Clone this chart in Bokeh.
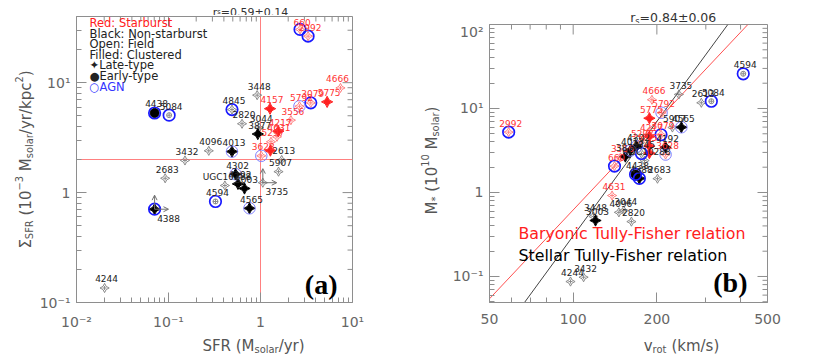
import math
from bokeh.plotting import figure
from bokeh.models import (Range1d, FixedTicker, CustomJSTickFormatter,
                          Label, Arrow, OpenHead, ColumnDataSource)
from bokeh.layouts import row, column
from bokeh.embed import file_html
from bokeh.resources import INLINE
from bokeh.core.properties import value

# ---------------- data ----------------
galaxy = ["660", "", "2613", "2683", "2820", "2992", "3003", "3044", "3079", "3432",
          "3448", "3556", "3628", "3735", "3877", "4013", "4096", "4157", "4192", "4217",
          "4244", "4302", "4388", "4438", "4565", "4594", "4631", "4666", "4845", "5084",
          "5297", "5775", "5792", "5907", "UGC10288"]
starburst = [1, 1, 0, 0, 0, 1, 0, 0, 1, 0,
             0, 1, 1, 0, 0, 0, 0, 1, 0, 1,
             0, 0, 0, 0, 0, 0, 1, 1, 0, 0,
             1, 1, 1, 0, 0]
clustered = [0, 1, 0, 0, 0, 0, 1, 0, 0, 0,
             0, 0, 0, 0, 1, 1, 0, 1, 1, 1,
             0, 1, 1, 1, 1, 0, 0, 0, 0, 0,
             0, 1, 0, 0, 0]
early = [0, 0, 0, 0, 0, 0, 0, 0, 0, 0,
         0, 0, 0, 0, 0, 0, 0, 0, 0, 0,
         0, 0, 0, 1, 0, 1, 0, 0, 0, 1,
         0, 0, 0, 0, 0]
agn = [2, 0, 0, 0, 0, 2, 0, 0, 2, 0,
       0, 0, 1, 0, 0, 1, 0, 0, 0, 0,
       0, 1, 2, 2, 1, 2, 0, 0, 2, 2,
       0, 0, 1, 0, 0]

# panel (a): SFR (Msolar/yr) vs Sigma_SFR (1e-3 Msolar/yr/kpc^2)
sfr = [2.69, 1.28, 1.70, 0.092, 0.63, 3.29, 0.67, 0.97, 3.52, 0.151,
       0.92, 2.14, 1.02, 1.06, 0.935, 0.49, 0.274, 1.27, 0.569, 1.56,
       0.0202, 0.536, 0.0706, 0.0706, 0.759, 0.324, 1.51, 7.4, 0.49, 0.1016,
       1.30, 5.3, 2.65, 1.57, 0.41]
sigma_sfr = [30.5, 2.41, 1.98, 1.35, 4.23, 26.5, 1.09, 3.88, 6.55, 1.96,
             7.7, 4.56, 2.16, 1.23, 3.41, 2.36, 2.4, 5.8, 1.2, 3.62,
             0.1355, 1.47, 0.706, 5.3, 0.72, 0.83, 3.22, 8.96, 5.69, 5.06,
             2.9, 6.69, 6.1, 1.55, 1.16]
limits_a = ["3735", "4388"]
sfr_cut = 1.0
sigma_cut = 2.0

# panel (b): v_rot (km/s) vs M* (1e10 Msolar)
vrot = [140.8, 188, 289, 201, 162, 58.6, 120.3, 152, 207, 109,
        118.3, 148, 215, 240, 154, 160.7, 146, 188, 215, 188,
        97.8, 169, 173, 167.6, 245, 409, 138, 192, 176, 314,
        174.6, 188, 208, 227.5, 180.6]
mstar = [2.06, 2.94, 11.7, 1.46, 0.45, 5.23, 0.464, 0.61, 4.87, 0.098,
         0.518, 2.61, 2.83, 14.7, 2.68, 3.16, 0.58, 3.56, 3.46, 4.64,
         0.087, 3.53, 1.47, 1.64, 5.98, 25.9, 0.92, 12.7, 2.91, 12.2,
         3.94, 7.66, 8.9, 5.94, 2.4]
btf_v = [50, 425]
btf_m = [0.0543, 100]
stf_v = [66.8, 360]
stf_m = [0.049, 100]

title_a = "=0.59\u00b10.14"
title_b = "=0.84\u00b10.06"
legend_rows = ["Red: Starburst", "Black: Non-starburst", "Open: Field",
               "Filled: Clustered", "\u2726Late-type", "\u25cfEarly-type", "\u25cbAGN"]
bx_ticks = [50, 100, 200, 500]
bx_minor = [60, 70, 80, 90, 300, 400]

# ---------------- style ----------------
FONT = "DejaVu Sans"
AX = "#8e8e8e"
TL = "#666666"
TT = "#555555"
RED = "#ff2020"
RED_OPEN = "#ff8080"
RED_TXT = "#ff3333"
GRAY = "#8a8a8a"
BLACK = "#000000"
TXT = "#222222"
BLUE_THICK = "#1a1aff"
BLUE_THIN = "#8080ff"
ARROW = "#707070"
MAJ, MIN = 10, 5

W = {' ': 0.318, '(': 0.390, ')': 0.390, '/': 0.337, '*': 0.500, '=': 0.838,
     '\u00b1': 0.838, '.': 0.318, '\u2212': 0.838, '-': 0.361,
     'S': 0.635, 'F': 0.575, 'R': 0.695, 'M': 0.863, '\u03a3': 0.632,
     'a': 0.613, 'c': 0.550, 'k': 0.579, 'l': 0.278, 'm': 0.974, 'o': 0.612,
     'p': 0.635, 'r': 0.411, 's': 0.521, 't': 0.392, 'v': 0.592, 'y': 0.592}
for d in "0123456789":
    W[d] = 0.636


def tw(s, fs):
    return sum(W.get(ch, 0.6) for ch in s) * fs


def rich(p, parts, cx, cy, fs, color, vertical=False, scale=0.66, sub=0.28, sup=0.42):
    small = scale * fs
    widths = [tw(t, fs if k == 'n' else small) for t, k in parts]
    pos = -sum(widths) / 2
    for (t, k), w in zip(parts, widths):
        f = fs if k == 'n' else small
        shift = 0 if k == 'n' else (-sub * fs if k == 'sub' else sup * fs)
        body = t.lstrip(' ')
        lead = tw(t[:len(t) - len(body)], f)
        if vertical:
            x, y, ang = cx - shift, cy + pos + lead, math.pi / 2
        else:
            x, y, ang = cx + pos + lead, cy + shift, 0
        p.add_layout(Label(x=x, y=y, x_units='screen', y_units='screen', text=body,
                           angle=ang, text_font=FONT, text_font_size=f"{f:.1f}px",
                           text_color=color, text_align='left',
                           text_baseline='alphabetic'))
        pos += w


def strip(w, h):
    f = figure(width=w, height=h, x_range=Range1d(0, 1), y_range=Range1d(0, 1),
               x_axis_location=None, y_axis_location=None,
               min_border_left=0, min_border_right=0, min_border_top=0,
               min_border_bottom=0, output_backend="svg", toolbar_location=None,
               tools="", outline_line_color=None, background_fill_color="white",
               border_fill_color="white")
    f.grid.visible = False
    return f


pow_fmt = CustomJSTickFormatter(code="""
const e = Math.round(Math.log10(tick));
if (e === 0) { return '1'; }
const sup = {'-':'\u207b','0':'\u2070','1':'\u00b9','2':'\u00b2','3':'\u00b3','4':'\u2074',
             '5':'\u2075','6':'\u2076','7':'\u2077','8':'\u2078','9':'\u2079'};
return '10' + String(e).split('').map(c => sup[c]).join('');
""")
int_fmt = CustomJSTickFormatter(code="return tick.toFixed(0);")


def style_axis(ax, standoff):
    ax.axis_line_color = AX
    ax.major_tick_line_color = AX
    ax.minor_tick_line_color = AX
    ax.major_tick_in = MAJ
    ax.major_tick_out = 0
    ax.minor_tick_in = MIN
    ax.minor_tick_out = 0
    ax.major_label_text_font = FONT
    ax.major_label_text_font_size = "14px"
    ax.major_label_text_color = TL
    ax.major_label_standoff = standoff
    ax.axis_label = None


def decade_ticks(lo, hi):
    major = [10.0 ** e for e in range(-3, 4) if lo <= 10.0 ** e <= hi]
    minor = [m * 10.0 ** e for e in range(-3, 3) for m in range(2, 10)
             if lo <= m * 10.0 ** e <= hi]
    return major, minor


def setup_axes(p, xr, yr, xmaj, xmin, xf, ymaj, ymin, yf, fw, fh):
    style_axis(p.xaxis[0], 11)
    p.xaxis[0].ticker = FixedTicker(ticks=xmaj, minor_ticks=xmin)
    p.xaxis[0].formatter = xf
    style_axis(p.yaxis[0], 6)
    p.yaxis[0].ticker = FixedTicker(ticks=ymaj, minor_ticks=ymin)
    p.yaxis[0].formatter = yf
    p.outline_line_color = AX
    p.grid.visible = False
    # inward ticks on the top and right edges of the box
    ky = math.log10(yr[1] / yr[0]) / fh
    kx = math.log10(xr[1] / xr[0]) / fw
    xs = xmaj + xmin
    ln = [MAJ] * len(xmaj) + [MIN] * len(xmin)
    p.segment(x0=xs, y0=[yr[1]] * len(xs), x1=xs,
              y1=[yr[1] / 10 ** (L * ky) for L in ln], line_color=AX, line_width=1)
    ys = ymaj + ymin
    ln = [MAJ] * len(ymaj) + [MIN] * len(ymin)
    p.segment(x0=[xr[1]] * len(ys), y0=ys, x1=[xr[1] / 10 ** (L * kx) for L in ln],
              y1=ys, line_color=AX, line_width=1)


STAR = 6.5


def draw_points(p, xs, ys):
    n = len(galaxy)

    def src(cond):
        idx = [i for i in range(n) if cond(i)]
        return ColumnDataSource(dict(x=[xs[i] for i in idx], y=[ys[i] for i in idx]))

    for sb, lc in ((0, GRAY), (1, RED_OPEN)):
        s = src(lambda i: not early[i] and not clustered[i] and starburst[i] == sb)
        p.scatter('x', 'y', source=s, marker='square_pin', angle=math.pi / 4, size=STAR,
                  fill_color=None, line_color=lc, line_width=1)
        p.scatter('x', 'y', source=s, marker='cross', size=4, line_color=lc, line_width=1)
    s = src(lambda i: early[i] and not clustered[i])
    p.scatter('x', 'y', source=s, marker='circle_cross', size=5, fill_color=None,
              line_color=GRAY, line_width=1)
    for sb, fc in ((0, BLACK), (1, RED)):
        s = src(lambda i: not early[i] and clustered[i] and starburst[i] == sb)
        p.scatter('x', 'y', source=s, marker='square_pin', angle=math.pi / 4,
                  size=STAR + 1.5, fill_color=fc, line_color=fc, line_width=1)
    s = src(lambda i: early[i] and clustered[i])
    p.scatter('x', 'y', source=s, marker='circle', size=9, fill_color=BLACK, line_color=BLACK)
    s = src(lambda i: agn[i] == 2)
    p.scatter('x', 'y', source=s, marker='circle', size=11.5, fill_color=None,
              line_color=BLUE_THICK, line_width=1.7)
    s = src(lambda i: agn[i] == 1)
    p.scatter('x', 'y', source=s, marker='circle', size=11.5, fill_color=None,
              line_color=BLUE_THIN, line_width=1)


def draw_labels(p, xs, ys, below=(), left=(), low=()):
    src = ColumnDataSource(dict(
        x=xs, y=ys, t=galaxy,
        c=[RED_TXT if sb else TXT for sb in starburst],
        xo=[14 if g in below else (-3 if g in left else 2) for g in galaxy],
        yo=[9 if g in below else (-7 if g in low else -9) for g in galaxy]))
    p.text('x', 'y', text='t', source=src, text_color='c', x_offset='xo', y_offset='yo',
           text_font=value(FONT), text_font_size=value("9px"), text_align='center',
           text_baseline='middle')


# ---------------- panel (a) ----------------
XA = (0.01, 10)
YA = (0.1, 40)
FW_A, FH_A = 278, 285
pa = figure(width=374, height=317, x_axis_type="log", y_axis_type="log",
            x_range=Range1d(*XA), y_range=Range1d(*YA),
            min_border_left=38, min_border_right=58, min_border_top=1,
            min_border_bottom=30, output_backend="svg", toolbar_location=None,
            tools="", background_fill_color="white", border_fill_color="white")
xa_maj, xa_min = decade_ticks(*XA)
ya_maj, ya_min = decade_ticks(*YA)
setup_axes(pa, XA, YA, xa_maj, xa_min, pow_fmt, ya_maj, ya_min, pow_fmt, FW_A, FH_A)

pa.line([sfr_cut, sfr_cut], list(YA), line_color=RED_OPEN, line_width=1)
pa.line(list(XA), [sigma_cut, sigma_cut], line_color=RED_OPEN, line_width=1)

draw_points(pa, sfr, sigma_sfr)

ARR_PX = 14
fx_up = 10 ** (ARR_PX * math.log10(YA[1] / YA[0]) / FH_A)
fx_rt = 10 ** (ARR_PX * math.log10(XA[1] / XA[0]) / FW_A)
for g in limits_a:
    i = galaxy.index(g)
    pa.add_layout(Arrow(end=OpenHead(size=5, line_color=ARROW, line_width=1),
                        x_start=sfr[i], y_start=sigma_sfr[i],
                        x_end=sfr[i], y_end=sigma_sfr[i] * fx_up,
                        line_color=ARROW, line_width=1))
    pa.add_layout(Arrow(end=OpenHead(size=5, line_color=ARROW, line_width=1),
                        x_start=sfr[i], y_start=sigma_sfr[i],
                        x_end=sfr[i] * fx_rt, y_end=sigma_sfr[i],
                        line_color=ARROW, line_width=1))

draw_labels(pa, sfr, sigma_sfr, below=limits_a, left=("4666",), low=("660",))

legend_colors = [RED, TXT, TXT, TXT, TXT, TXT, "#3535ff"]
for k, (t, c) in enumerate(zip(legend_rows, legend_colors)):
    pa.add_layout(Label(x=13, y=279.5 - 10.6 * k, x_units='screen', y_units='screen',
                        text=t, text_font=FONT, text_font_size="11.5px", text_color=c,
                        text_align='left', text_baseline='middle'))

pa.add_layout(Label(x=261, y=18, x_units='screen', y_units='screen', text="(a)",
                    text_font="Liberation Serif", text_font_style="bold",
                    text_font_size="28px", text_color=BLACK, text_align='right',
                    text_baseline='middle'))

# strips holding the titles of panel (a)
ta = strip(374, 15)
rich(ta, [("r", 'n'), ("s", 'sub'), (title_a, 'n')], 174, 3.5, 11, "#333333",
     scale=0.6, sub=0.045)
xa = strip(374, 24)
rich(xa, [("SFR (M", 'n'), ("solar", 'sub'), ("/yr)", 'n')], 177, 11, 15, TT)
ya = strip(36, 356)
rich(ya, [("\u03a3", 'n'), ("SFR", 'sub'), (" (10", 'n'), ("\u22123", 'sup'), (" M", 'n'),
          ("solar", 'sub'), ("/yr/kpc", 'n'), ("2", 'sup'), (")", 'n')],
     25, 197, 15, TT, vertical=True)

# ---------------- panel (b) ----------------
XB = (50, 500)
YB = (0.049, 100)
FW_B, FH_B = 278, 278
pb = figure(width=382, height=309, x_axis_type="log", y_axis_type="log",
            x_range=Range1d(*XB), y_range=Range1d(*YB),
            min_border_left=49, min_border_right=55, min_border_top=1,
            min_border_bottom=30, output_backend="svg", toolbar_location=None,
            tools="", background_fill_color="white", border_fill_color="white")
yb_maj, yb_min = decade_ticks(*YB)
setup_axes(pb, XB, YB, bx_ticks, bx_minor, int_fmt, yb_maj, yb_min, pow_fmt, FW_B, FH_B)

pb.line(btf_v, btf_m, line_color="#ff5050", line_width=1)
pb.line(stf_v, stf_m, line_color="#444444", line_width=1)

draw_points(pb, vrot, mstar)
draw_labels(pb, vrot, mstar)

pb.add_layout(Label(x=29, y=69, x_units='screen', y_units='screen',
                    text="Baryonic Tully-Fisher relation", text_font=FONT,
                    text_font_size="15.8px", text_color=RED, text_align='left',
                    text_baseline='middle'))
pb.add_layout(Label(x=29, y=47, x_units='screen', y_units='screen',
                    text="Stellar Tully-Fisher relation", text_font=FONT,
                    text_font_size="15.8px", text_color=BLACK, text_align='left',
                    text_baseline='middle'))
pb.add_layout(Label(x=258, y=20, x_units='screen', y_units='screen', text="(b)",
                    text_font="Liberation Serif", text_font_style="bold",
                    text_font_size="28px", text_color=BLACK, text_align='right',
                    text_baseline='middle'))

tb = strip(382, 23)
rich(tb, [("r", 'n'), ("s", 'sub'), (title_b, 'n')], 183.7, 6.5, 12.5, "#333333")
xb = strip(382, 24)
rich(xb, [("v", 'n'), ("rot", 'sub'), (" (km/s)", 'n')], 192, 11, 15, TT)
yb = strip(30, 356)
rich(yb, [("M", 'n'), ("*", 'sub'), (" (10", 'n'), ("10", 'sup'), (" M", 'n'),
          ("solar", 'sub'), (")", 'n')], 21, 196, 15, TT, vertical=True)

layout = row(ya, column(ta, pa, xa), yb, column(tb, pb, xb))
open("out.html", "w").write(file_html(layout, INLINE))
